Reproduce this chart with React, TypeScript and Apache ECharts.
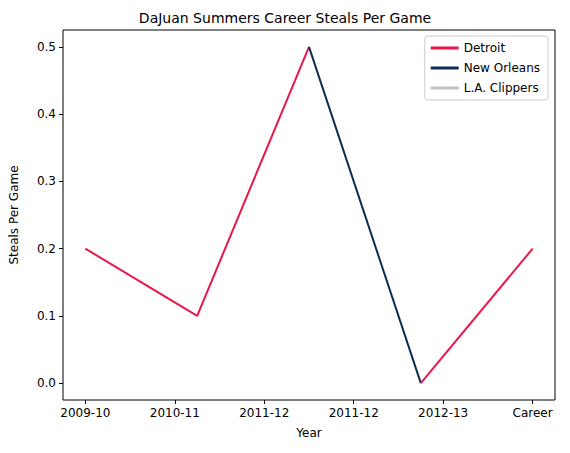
import React, { useEffect, useRef } from "react";
import * as echarts from "echarts";

const tickLabels = ["2009-10", "2010-11", "2011-12", "2011-12", "2012-13", "Career"];
const tickPos = [0, 1, 2, 3, 4, 5];
const detroitA = [[0, 0.2], [1.25, 0.1], [2.5, 0.5]];
const newOrleans = [[2.5, 0.5], [3.75, 0.0]];
const detroitB = [[3.75, 0.0], [5, 0.2]];
const yTicks = [0, 0.1, 0.2, 0.3, 0.4, 0.5];

const font = "DejaVu Sans";

const App = () => {
  const chartRef = useRef<HTMLDivElement>(null);

  useEffect(() => {
    if (!chartRef.current) return;
    const myChart = echarts.init(chartRef.current, null, { renderer: "svg" });
    const line = (name: string, color: string, data: number[][]) => ({
      name,
      type: "line",
      data,
      color,
      symbol: "none",
      lineStyle: { width: 2, color },
    });
    myChart.setOption({
      animation: false,
      textStyle: { fontFamily: font },
      title: {
        text: "DaJuan Summers Career Steals Per Game",
        left: "center",
        top: 6,
        textStyle: { fontSize: 14, fontWeight: "normal", color: "#000", fontFamily: font },
      },
      grid: { left: 62, right: 15, top: 30, bottom: 53, show: true, borderColor: "#000", borderWidth: 1 },
      legend: {
        right: 22,
        top: 36,
        orient: "vertical",
        itemWidth: 28,
        itemHeight: 3,
        itemGap: 8,
        padding: [6, 8, 6, 6],
        borderColor: "#ccc",
        borderWidth: 1,
        borderRadius: 3,
        backgroundColor: "#fff",
        icon: "rect",
        data: ["Detroit", "New Orleans", "L.A. Clippers"],
        textStyle: { fontSize: 12, color: "#000", fontFamily: font },
      },
      xAxis: {
        type: "value",
        min: -0.25,
        max: 5.25,
        name: "Year",
        nameLocation: "middle",
        nameGap: 27,
        nameTextStyle: { fontSize: 12, color: "#000" },
        axisLine: { show: false, onZero: false },
        splitLine: { show: false },
        axisTick: { show: true, customValues: tickPos, length: 4, lineStyle: { color: "#000" } },
        axisLabel: {
          customValues: tickPos,
          color: "#000",
          fontSize: 12,
          margin: 7,
          formatter: (v: number) => tickLabels[Math.round(v)] ?? "",
        },
      },
      yAxis: {
        type: "value",
        min: -0.025,
        max: 0.525,
        name: "Steals Per Game",
        nameLocation: "middle",
        nameGap: 43,
        nameTextStyle: { fontSize: 12, color: "#000" },
        axisLine: { show: false, onZero: false },
        splitLine: { show: false },
        axisTick: { show: true, customValues: yTicks, length: 4, lineStyle: { color: "#000" } },
        axisLabel: {
          customValues: yTicks,
          color: "#000",
          fontSize: 12,
          margin: 7,
          formatter: (v: number) => v.toFixed(1),
        },
      },
      series: [
        line("Detroit", "#e8174a", detroitA),
        line("New Orleans", "#0c2c56", newOrleans),
        line("Detroit", "#e8174a", detroitB),
        line("L.A. Clippers", "#c0c0c0", []),
      ],
    });
    return () => myChart.dispose();
  }, []);

  return <div ref={chartRef} style={{ width: 570, height: 453, margin: -8 }} />;
};

export default App;
